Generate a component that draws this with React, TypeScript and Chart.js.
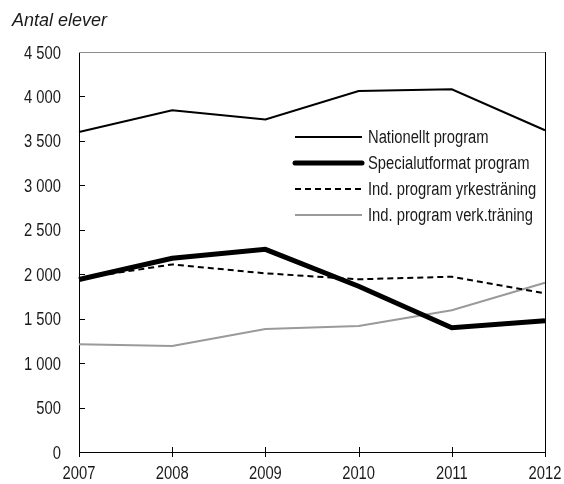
import React, { useEffect, useRef } from "react";
import { Chart, registerables } from "chart.js";

Chart.register(...registerables);

const years = ["2007", "2008", "2009", "2010", "2011", "2012"];
const nationellt = [3600, 3845, 3740, 4060, 4080, 3620];
const specialutformat = [1940, 2180, 2280, 1865, 1398, 1477];
const yrkestraning = [1950, 2110, 2010, 1943, 1972, 1785];
const verktraning = [1211, 1192, 1384, 1417, 1594, 1905];
const seriesNames = [
  "Nationellt program",
  "Specialutformat program",
  "Ind. program yrkesträning",
  "Ind. program verk.träning",
];
const yAxisTitle = "Antal elever";
const yMax = 4500;
const yStep = 500;

const BASE_FONT = "'Liberation Sans', Arial, sans-serif";
const NARROW = 0.82;
const TEXT = "#1a1a1a";

const fmt = (v: number) => {
  const s = String(Math.round(v));
  return s.replace(/\B(?=(\d{3})+(?!\d))/g, " ");
};

function narrowText(ctx: CanvasRenderingContext2D, text: string, x: number, y: number, align: CanvasTextAlign) {
  ctx.save();
  ctx.translate(x, y);
  ctx.scale(NARROW, 1);
  ctx.textAlign = align;
  ctx.textBaseline = "alphabetic";
  ctx.fillText(text, 0, 0);
  ctx.restore();
}

const decorPlugin = {
  id: "decor",
  afterDraw(chart: any) {
    const { ctx, chartArea, scales } = chart;
    const { left, right, top, bottom } = chartArea;
    ctx.save();
    // top border
    ctx.strokeStyle = "#8c8c8c";
    ctx.lineWidth = 1;
    ctx.beginPath();
    ctx.moveTo(left, Math.round(top) + 0.5);
    ctx.lineTo(right, Math.round(top) + 0.5);
    ctx.stroke();
    // right border
    ctx.strokeStyle = "#000";
    ctx.beginPath();
    ctx.moveTo(Math.round(right) + 0.5, top);
    ctx.lineTo(Math.round(right) + 0.5, bottom);
    ctx.stroke();

    ctx.fillStyle = TEXT;
    ctx.font = `18px ${BASE_FONT}`;
    // y ticks (inward) + labels
    const ys = scales.y;
    ys.ticks.forEach((t: any) => {
      const yp = ys.getPixelForValue(t.value);
      const y = Math.round(yp) + 0.5;
      if (t.value > 0 && t.value < yMax) {
        ctx.beginPath();
        ctx.moveTo(left, y);
        ctx.lineTo(left + 6, y);
        ctx.stroke();
      }
      narrowText(ctx, fmt(t.value), 61, yp + 6.5, "right");
    });
    // x ticks (crossing) + labels
    const xs = scales.x;
    xs.ticks.forEach((t: any, i: number) => {
      const xp = xs.getPixelForTick(i);
      const x = Math.round(xp) + 0.5;
      ctx.beginPath();
      ctx.moveTo(x, bottom - 5);
      ctx.lineTo(x, bottom + 5);
      ctx.stroke();
      narrowText(ctx, xs.getLabelForValue(t.value), xp, 479, "center");
    });
    // title
    ctx.font = `italic 18px ${BASE_FONT}`;
    ctx.textAlign = "left";
    ctx.textBaseline = "alphabetic";
    ctx.fillText(yAxisTitle, 12, 26);
    // legend
    const lx0 = 295;
    const lx1 = 362;
    const tx = 368;
    const rowY = [137, 163, 189, 215];
    ctx.font = `18px ${BASE_FONT}`;
    chart.data.datasets.forEach((ds: any, i: number) => {
      const y = rowY[i];
      ctx.save();
      ctx.strokeStyle = ds.borderColor;
      ctx.lineWidth = ds.borderWidth;
      ctx.lineCap = ds.borderWidth > 3 ? "round" : "butt";
      ctx.setLineDash(ds.borderDash || []);
      ctx.beginPath();
      ctx.moveTo(lx0, y);
      ctx.lineTo(lx1, y);
      ctx.stroke();
      ctx.restore();
      narrowText(ctx, ds.label, tx, y + 6, "left");
    });
    ctx.restore();
  },
};

export default function App() {
  const ref = useRef<HTMLCanvasElement | null>(null);
  useEffect(() => {
    if (!ref.current) return;
    const chart = new Chart(ref.current, {
      type: "line",
      data: {
        labels: years,
        datasets: [
          {
            label: seriesNames[0],
            data: nationellt,
            borderColor: "#000000",
            borderWidth: 2,
          },
          {
            label: seriesNames[1],
            data: specialutformat,
            borderColor: "#000000",
            borderWidth: 5,
          },
          {
            label: seriesNames[2],
            data: yrkestraning,
            borderColor: "#000000",
            borderWidth: 2,
            borderDash: [6, 4],
          },
          {
            label: seriesNames[3],
            data: verktraning,
            borderColor: "#9a9a9a",
            borderWidth: 2,
          },
        ].map((d) => ({ ...d, pointRadius: 0, tension: 0, fill: false })),
      },
      options: {
        responsive: false,
        animation: false,
        layout: { padding: { top: 52, right: 19, bottom: 0, left: 0 } },
        plugins: {
          legend: { display: false },
          tooltip: { enabled: false },
          title: { display: false },
        },
        scales: {
          x: {
            type: "category",
            offset: false,
            grid: { display: false, drawTicks: false },
            border: { display: true, color: "#000", width: 1 },
            ticks: { display: false, autoSkip: false },
            afterFit: (s: any) => {
              s.height = 32;
            },
          },
          y: {
            min: 0,
            max: yMax,
            grid: { display: false, drawTicks: false },
            border: { display: true, color: "#000", width: 1 },
            ticks: { display: false, stepSize: yStep },
            afterFit: (s: any) => {
              s.width = 79;
            },
          },
        },
      },
      plugins: [decorPlugin],
    });
    return () => chart.destroy();
  }, []);
  return (
    <div style={{ position: "absolute", left: 0, top: 0, width: 564, height: 484, background: "#fff" }}>
      <canvas ref={ref} width={564} height={484} style={{ width: 564, height: 484, display: "block" }} />
    </div>
  );
}
